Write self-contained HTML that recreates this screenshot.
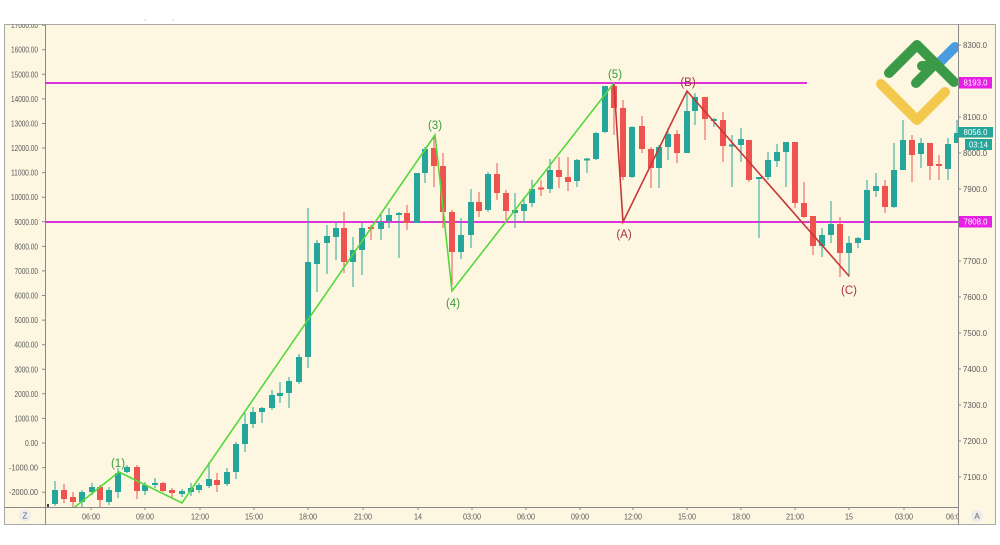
<!DOCTYPE html>
<html><head><meta charset="utf-8"><style>
html,body{margin:0;padding:0;background:#fff;width:1000px;height:545px;overflow:hidden}
svg{display:block}
.ax{font-family:"Liberation Sans",sans-serif;font-size:8.5px;fill:#5a5a5a}
.wl{font-family:"Liberation Sans",sans-serif;font-size:11.5px}
</style></head><body>
<svg width="1000" height="545" viewBox="0 0 1000 545" xmlns="http://www.w3.org/2000/svg">
<defs>
<clipPath id="plot"><rect x="45" y="24" width="913" height="483"/></clipPath>
<clipPath id="frame"><rect x="4" y="24.5" width="992" height="500"/></clipPath>
<clipPath id="taxis"><rect x="45" y="507" width="913" height="18"/></clipPath>
</defs>
<rect x="0" y="0" width="1000" height="545" fill="#fff"/>
<circle cx="145" cy="20" r="0.8" fill="#c8c8c8"/>
<circle cx="173" cy="20" r="0.8" fill="#c8c8c8"/>
<rect x="4.5" y="24.5" width="991" height="500" fill="#fdf7e2" stroke="#a8a8a8" stroke-width="1"/>

<!-- left axis labels -->
<g class="ax" text-anchor="end" clip-path="url(#frame)">
<text x="38" y="28.1" textLength="27" lengthAdjust="spacingAndGlyphs">17000.00</text>
<text x="38" y="52.7" textLength="27" lengthAdjust="spacingAndGlyphs">16000.00</text>
<text x="38" y="77.3" textLength="27" lengthAdjust="spacingAndGlyphs">15000.00</text>
<text x="38" y="101.9" textLength="27" lengthAdjust="spacingAndGlyphs">14000.00</text>
<text x="38" y="126.5" textLength="27" lengthAdjust="spacingAndGlyphs">13000.00</text>
<text x="38" y="151" textLength="27" lengthAdjust="spacingAndGlyphs">12000.00</text>
<text x="38" y="175.6" textLength="27" lengthAdjust="spacingAndGlyphs">11000.00</text>
<text x="38" y="200.2" textLength="27" lengthAdjust="spacingAndGlyphs">10000.00</text>
<text x="38" y="224.8" textLength="23.5" lengthAdjust="spacingAndGlyphs">9000.00</text>
<text x="38" y="249.4" textLength="23.5" lengthAdjust="spacingAndGlyphs">8000.00</text>
<text x="38" y="273.9" textLength="23.5" lengthAdjust="spacingAndGlyphs">7000.00</text>
<text x="38" y="298.5" textLength="23.5" lengthAdjust="spacingAndGlyphs">6000.00</text>
<text x="38" y="323.1" textLength="23.5" lengthAdjust="spacingAndGlyphs">5000.00</text>
<text x="38" y="347.7" textLength="23.5" lengthAdjust="spacingAndGlyphs">4000.00</text>
<text x="38" y="372.3" textLength="23.5" lengthAdjust="spacingAndGlyphs">3000.00</text>
<text x="38" y="396.8" textLength="23.5" lengthAdjust="spacingAndGlyphs">2000.00</text>
<text x="38" y="421.4" textLength="23.5" lengthAdjust="spacingAndGlyphs">1000.00</text>
<text x="38" y="446" textLength="13" lengthAdjust="spacingAndGlyphs">0.00</text>
<text x="38" y="470.6" textLength="29" lengthAdjust="spacingAndGlyphs">-1000.00</text>
<text x="38" y="495.2" textLength="29" lengthAdjust="spacingAndGlyphs">-2000.00</text>
</g>
<g stroke="#888" stroke-width="1">
<path d="M42 25.1H45M42 49.7H45M42 74.3H45M42 98.9H45M42 123.5H45M42 148H45M42 172.6H45M42 197.2H45M42 221.8H45M42 246.4H45M42 270.9H45M42 295.5H45M42 320.1H45M42 344.7H45M42 369.3H45M42 393.8H45M42 418.4H45M42 443H45M42 467.6H45M42 492.2H45"/>
<path d="M958 45H961M958 117H961M958 153H961M958 189H961M958 261H961M958 297H961M958 333H961M958 369H961M958 405H961M958 441H961M958 477H961"/>
<path d="M91 507V510M145 507V510M200 507V510M254 507V510M308 507V510M363 507V510M418 507V510M472 507V510M526 507V510M580 507V510M633 507V510M687 507V510M741 507V510M795 507V510M849 507V510M904 507V510"/>
</g>

<!-- right axis labels -->
<g class="ax">
<text x="963" y="48" textLength="24" lengthAdjust="spacingAndGlyphs">8300.0</text>
<text x="963" y="120" textLength="24" lengthAdjust="spacingAndGlyphs">8100.0</text>
<text x="963" y="156" textLength="24" lengthAdjust="spacingAndGlyphs">8000.0</text>
<text x="963" y="192" textLength="24" lengthAdjust="spacingAndGlyphs">7900.0</text>
<text x="963" y="264" textLength="24" lengthAdjust="spacingAndGlyphs">7700.0</text>
<text x="963" y="300" textLength="24" lengthAdjust="spacingAndGlyphs">7600.0</text>
<text x="963" y="336" textLength="24" lengthAdjust="spacingAndGlyphs">7500.0</text>
<text x="963" y="372" textLength="24" lengthAdjust="spacingAndGlyphs">7400.0</text>
<text x="963" y="408" textLength="24" lengthAdjust="spacingAndGlyphs">7300.0</text>
<text x="963" y="444" textLength="24" lengthAdjust="spacingAndGlyphs">7200.0</text>
<text x="963" y="480" textLength="24" lengthAdjust="spacingAndGlyphs">7100.0</text>
</g>

<!-- time axis labels -->
<g class="ax" text-anchor="middle" clip-path="url(#taxis)">
<text x="91" y="519.5" textLength="18" lengthAdjust="spacingAndGlyphs">06:00</text>
<text x="145" y="519.5" textLength="18" lengthAdjust="spacingAndGlyphs">09:00</text>
<text x="200" y="519.5" textLength="18" lengthAdjust="spacingAndGlyphs">12:00</text>
<text x="254" y="519.5" textLength="18" lengthAdjust="spacingAndGlyphs">15:00</text>
<text x="308" y="519.5" textLength="18" lengthAdjust="spacingAndGlyphs">18:00</text>
<text x="363" y="519.5" textLength="18" lengthAdjust="spacingAndGlyphs">21:00</text>
<text x="418" y="519.5" textLength="8" lengthAdjust="spacingAndGlyphs">14</text>
<text x="472" y="519.5" textLength="18" lengthAdjust="spacingAndGlyphs">03:00</text>
<text x="526" y="519.5" textLength="18" lengthAdjust="spacingAndGlyphs">06:00</text>
<text x="580" y="519.5" textLength="18" lengthAdjust="spacingAndGlyphs">09:00</text>
<text x="633" y="519.5" textLength="18" lengthAdjust="spacingAndGlyphs">12:00</text>
<text x="687" y="519.5" textLength="18" lengthAdjust="spacingAndGlyphs">15:00</text>
<text x="741" y="519.5" textLength="18" lengthAdjust="spacingAndGlyphs">18:00</text>
<text x="795" y="519.5" textLength="18" lengthAdjust="spacingAndGlyphs">21:00</text>
<text x="849" y="519.5" textLength="8" lengthAdjust="spacingAndGlyphs">15</text>
<text x="904" y="519.5" textLength="18" lengthAdjust="spacingAndGlyphs">03:00</text>
<text x="955" y="519.5" textLength="18" lengthAdjust="spacingAndGlyphs">06:00</text>
</g>

<!-- Z / A buttons -->
<circle cx="25" cy="515.5" r="6" fill="#ececec"/>
<text x="25" y="518.5" text-anchor="middle" font-family="Liberation Sans,sans-serif" font-size="8" fill="#666">Z</text>
<circle cx="977" cy="516" r="6" fill="#ececec"/>
<text x="977" y="519" text-anchor="middle" font-family="Liberation Sans,sans-serif" font-size="8" fill="#666">A</text>

<!-- separators -->
<g stroke="#8a8a8a" stroke-width="1">
<line x1="45.5" y1="24.5" x2="45.5" y2="524.5"/>
<line x1="958.5" y1="24.5" x2="958.5" y2="524.5"/>
<line x1="4.5" y1="507.5" x2="958.5" y2="507.5"/>
</g>

<g clip-path="url(#plot)">
<!-- magenta levels -->
<line x1="45" y1="83" x2="807" y2="83" stroke="#dd33dd" stroke-width="2"/>
<line x1="45" y1="222" x2="958" y2="222" stroke="#dd33dd" stroke-width="2"/>

<rect x="47" y="504" width="2" height="3" fill="#444"/>

<!-- green candles -->
<g fill="#26a69a" stroke="#26a69a">
<path stroke-width="1" fill="none" d="M55 481V506M82 490V507M92 483V495M109 487V505M118 468V498M127 465V473M145 482V495M155 478V488M182 489V497M191 483V496M199 483V493M209 462V488M227 468V486M236 442V479M245 413V452M253 407V428M262 407V423M272 390V410M280 382V403M289 377V408M299 354V384M308 208V368M317 240V292M327 225V274M336 222V260M353 237V287M362 223V275M381 215V240M389 208V228M399 212V258M417 173V223M425 147V183M461 218V259M471 189V248M488 172V212M515 193V228M524 197V223M532 180V207M550 159V193M577 159V187M587 158V173M596 132V160M605 86V133M632 126V178M659 145V188M668 128V160M687 91V153M695 93V125M714 118V127M732 135V187M741 128V162M759 177V238M768 152V180M777 144V167M786 142V187M822 228V257M831 201V243M849 236V277M858 237V248M867 180V240M876 173V197M894 143V208M903 120V170M921 138V168M948 138V180M957 120V143"/>
<g stroke="none">
<rect x="52" y="490" width="6" height="14"/>
<rect x="79" y="492" width="6" height="10"/>
<rect x="89" y="487" width="6" height="5"/>
<rect x="106" y="490" width="6" height="12"/>
<rect x="115" y="473" width="6" height="19"/>
<rect x="124" y="467" width="6" height="5"/>
<rect x="142" y="485" width="6" height="6"/>
<rect x="152" y="483" width="6" height="2"/>
<rect x="179" y="491" width="6" height="3"/>
<rect x="188" y="488" width="6" height="4"/>
<rect x="196" y="485" width="6" height="5"/>
<rect x="206" y="479" width="6" height="7"/>
<rect x="224" y="472" width="6" height="12"/>
<rect x="233" y="444" width="6" height="28"/>
<rect x="242" y="424" width="6" height="20"/>
<rect x="250" y="412" width="6" height="12"/>
<rect x="259" y="408" width="6" height="4"/>
<rect x="269" y="395" width="6" height="13"/>
<rect x="277" y="393" width="6" height="3"/>
<rect x="286" y="381" width="6" height="12"/>
<rect x="296" y="357" width="6" height="25"/>
<rect x="305" y="262" width="6" height="95"/>
<rect x="314" y="243" width="6" height="21"/>
<rect x="324" y="236" width="6" height="7"/>
<rect x="333" y="228" width="6" height="9"/>
<rect x="350" y="250" width="6" height="12"/>
<rect x="359" y="228" width="6" height="22"/>
<rect x="378" y="222" width="6" height="7"/>
<rect x="386" y="215" width="6" height="6"/>
<rect x="396" y="213" width="6" height="2"/>
<rect x="414" y="173" width="6" height="50"/>
<rect x="422" y="149" width="6" height="24"/>
<rect x="458" y="235" width="6" height="17"/>
<rect x="468" y="202" width="6" height="33"/>
<rect x="485" y="174" width="6" height="36"/>
<rect x="512" y="210" width="6" height="3"/>
<rect x="521" y="204" width="6" height="7"/>
<rect x="529" y="189" width="6" height="14"/>
<rect x="547" y="170" width="6" height="19"/>
<rect x="574" y="160" width="6" height="21"/>
<rect x="584" y="158.5" width="6" height="2"/>
<rect x="593" y="133" width="6" height="26"/>
<rect x="602" y="86" width="6" height="46"/>
<rect x="629" y="127" width="6" height="50"/>
<rect x="656" y="147" width="6" height="21"/>
<rect x="665" y="134" width="6" height="13"/>
<rect x="684" y="111" width="6" height="42"/>
<rect x="692" y="97" width="6" height="14"/>
<rect x="711" y="119" width="6" height="2"/>
<rect x="729" y="144.5" width="6" height="2"/>
<rect x="738" y="139" width="6" height="6"/>
<rect x="756" y="177" width="6" height="2"/>
<rect x="765" y="160" width="6" height="17"/>
<rect x="774" y="152" width="6" height="9"/>
<rect x="783" y="142" width="6" height="10"/>
<rect x="819" y="235" width="6" height="11"/>
<rect x="828" y="224" width="6" height="11"/>
<rect x="846" y="243" width="6" height="10"/>
<rect x="855" y="238" width="6" height="5"/>
<rect x="864" y="190" width="6" height="50"/>
<rect x="873" y="186" width="6" height="5"/>
<rect x="891" y="170" width="6" height="37"/>
<rect x="900" y="140" width="6" height="30"/>
<rect x="918" y="143" width="6" height="11"/>
<rect x="945" y="144" width="6" height="25"/>
<rect x="954" y="133" width="6" height="10"/>
</g>
</g>

<!-- red candles -->
<g fill="#ef5350" stroke="#ef5350">
<path stroke-width="1" fill="none" d="M64 484V503M73 492V507M100 485V507M137 465V499M163 482V492M172 488V498M217 473V492M344 212V273M371 225V240M407 205V230M434 137V187M443 153V228M452 210V285M479 192V217M497 163V200M506 190V220M541 180V196M559 157V188M568 157V191M614 83V135M623 100V180M642 116V153M651 147V188M677 130V163M705 97V140M723 112V162M749 140V182M795 142V208M804 182V218M813 216V255M840 217V277M885 180V213M912 135V182M930 143V180M939 155V180"/>
<g stroke="none">
<rect x="61" y="490" width="6" height="9"/>
<rect x="70" y="497" width="6" height="5"/>
<rect x="97" y="487" width="6" height="13"/>
<rect x="134" y="467" width="6" height="24"/>
<rect x="160" y="483" width="6" height="8"/>
<rect x="169" y="490" width="6" height="3"/>
<rect x="214" y="480" width="6" height="5"/>
<rect x="341" y="228" width="6" height="34"/>
<rect x="368" y="227" width="6" height="2"/>
<rect x="404" y="213" width="6" height="10"/>
<rect x="431" y="148" width="6" height="18"/>
<rect x="440" y="166" width="6" height="46"/>
<rect x="449" y="212" width="6" height="40"/>
<rect x="476" y="202" width="6" height="9"/>
<rect x="494" y="174" width="6" height="19"/>
<rect x="503" y="193" width="6" height="18"/>
<rect x="538" y="187.5" width="6" height="2"/>
<rect x="556" y="170" width="6" height="7"/>
<rect x="565" y="177" width="6" height="5"/>
<rect x="611" y="86" width="6" height="22"/>
<rect x="620" y="108" width="6" height="69"/>
<rect x="639" y="126" width="6" height="23"/>
<rect x="648" y="149" width="6" height="19"/>
<rect x="674" y="134" width="6" height="19"/>
<rect x="702" y="97" width="6" height="22"/>
<rect x="720" y="120" width="6" height="26"/>
<rect x="746" y="140" width="6" height="40"/>
<rect x="792" y="142" width="6" height="61"/>
<rect x="801" y="203" width="6" height="14"/>
<rect x="810" y="216" width="6" height="30"/>
<rect x="837" y="224" width="6" height="29"/>
<rect x="882" y="186" width="6" height="21"/>
<rect x="909" y="140" width="6" height="15"/>
<rect x="927" y="143" width="6" height="23"/>
<rect x="936" y="164" width="6" height="2"/>
</g>
</g>

<!-- wave lines -->
<polyline points="61,518 119,472 182,503 435,135 452,291 614,83" fill="none" stroke="#55d83a" stroke-width="1.6" stroke-linejoin="miter"/>
<polyline points="614,84 623,222 687,91 849,276" fill="none" stroke="#c63838" stroke-width="1.6"/>

<!-- wave labels -->
<g class="wl" text-anchor="middle" fill="#3a9e3a">
<text x="118" y="467">(1)</text>
<text x="435" y="129">(3)</text>
<text x="453" y="307">(4)</text>
<text x="615" y="78">(5)</text>
</g>
<g class="wl" text-anchor="middle" fill="#a8323e">
<text x="624" y="238">(A)</text>
<text x="688" y="86">(B)</text>
<text x="849" y="294">(C)</text>
</g>

<!-- logo -->
<g fill="none" stroke-linecap="round" stroke-linejoin="round" stroke-width="10">
<polyline points="881,84 917,120 945,92" stroke="#f2c94c"/>
<line x1="939" y1="63" x2="955" y2="47" stroke="#4a9be0"/>
<polyline points="889,73 917,45 954,82" stroke="#3a9a47"/>
<polyline points="916,83 933,66 922,66" stroke="#3a9a47"/>
</g>
</g>

<!-- right axis boxes -->
<rect x="959" y="77" width="33" height="11.5" fill="#e61ee6"/>
<text x="975.5" y="85.5" text-anchor="middle" font-family="Liberation Sans,sans-serif" font-size="8.5" fill="#fff" textLength="24" lengthAdjust="spacingAndGlyphs">8193.0</text>
<rect x="959" y="216" width="33" height="11.5" fill="#e61ee6"/>
<text x="975.5" y="224.5" text-anchor="middle" font-family="Liberation Sans,sans-serif" font-size="8.5" fill="#fff" textLength="24" lengthAdjust="spacingAndGlyphs">7808.0</text>
<rect x="958" y="127" width="35" height="10.5" fill="#26a69a"/>
<text x="975.5" y="135" text-anchor="middle" font-family="Liberation Sans,sans-serif" font-size="8.5" fill="#fff" textLength="24" lengthAdjust="spacingAndGlyphs">8056.0</text>
<rect x="965" y="139" width="27" height="11" fill="#26a69a"/>
<text x="978.5" y="147.5" text-anchor="middle" font-family="Liberation Sans,sans-serif" font-size="8.5" fill="#fff" textLength="19" lengthAdjust="spacingAndGlyphs">03:14</text>
</svg>
</body></html>
